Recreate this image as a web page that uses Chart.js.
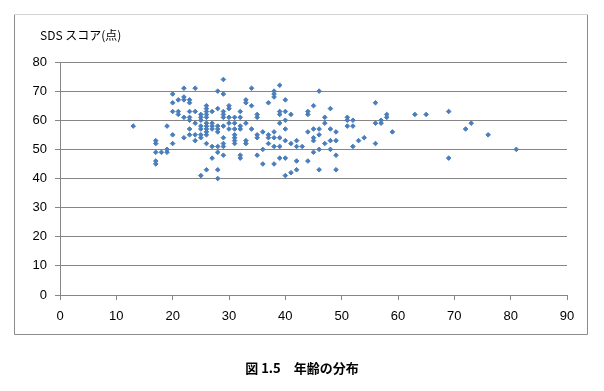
<!DOCTYPE html>
<html>
<head>
<meta charset="utf-8">
<script src="https://cdn.jsdelivr.net/npm/chart.js@4"></script>
<style>
  body { margin: 0; background: #fff; }
  #wrap { position: relative; width: 604px; height: 391px; }
</style>
</head>
<body>
<div id="wrap"><canvas id="ageChart" width="604" height="391"></canvas></div>
<script>
// 年齢とSDSスコア
const ages = [
  13, 17, 17, 17, 17, 17, 18, 19, 19, 19,
  20, 20, 20, 20, 20, 21, 21, 21, 22, 22, 22, 22, 22,
  23, 23, 23, 23, 23, 23, 23, 24, 24, 24, 24, 24,
  25, 25, 25, 25, 25, 25, 25, 25,
  26, 26, 26, 26, 26, 26, 26, 26, 26, 26, 26, 26,
  27, 27, 27, 27, 27, 27,
  28, 28, 28, 28, 28, 28, 28, 28, 28,
  29, 29, 29, 29, 29, 29, 29, 29, 29, 29,
  30, 30, 30, 30, 30,
  31, 31, 31, 31, 31, 31, 31,
  32, 32, 32, 32, 32, 32,
  33, 33, 33, 33, 33,
  34, 34, 34,
  35, 35, 35, 35, 35,
  36, 36, 36,
  37, 37, 37, 37,
  38, 38, 38, 38, 38, 38, 38,
  39, 39, 39, 39, 39, 39, 39,
  40, 40, 40, 40, 40, 40, 40,
  41, 41, 41,
  42, 42, 42, 42,
  43,
  44, 44, 44, 44,
  45, 45, 45, 45, 45,
  46, 46, 46, 46, 46,
  47, 47, 47,
  48, 48, 48, 48,
  49, 49, 49, 49,
  51, 51, 51, 52, 52, 52, 53, 54,
  56, 56, 56, 57, 57, 58, 58, 59,
  63, 65, 69, 69, 72, 73, 76, 81
];
const scores = [
  58, 53, 52, 49, 46, 45, 49, 50, 49, 58,
  55, 52, 69, 66, 63, 67, 63, 62, 54, 71, 68, 67, 61,
  55, 67, 66, 63, 61, 60, 57, 55, 53, 71, 63, 59,
  41, 62, 61, 60, 58, 57, 55, 54,
  65, 64, 63, 62, 61, 59, 58, 57, 56, 55, 52, 43,
  63, 59, 58, 57, 51, 47,
  70, 64, 58, 57, 56, 51, 49, 43, 40,
  74, 69, 63, 62, 61, 58, 54, 52, 51, 48,
  65, 64, 61, 59, 57,
  61, 59, 57, 55, 54, 53, 52,
  63, 61, 58, 57, 48, 47,
  67, 66, 59, 53, 52,
  71, 65, 57,
  62, 61, 55, 54, 48,
  56, 50, 45,
  66, 55, 54, 52,
  70, 69, 68, 56, 54, 51, 45,
  72, 63, 62, 59, 54, 51, 47,
  67, 63, 60, 57, 53, 47, 41,
  62, 52, 42,
  53, 51, 46, 43,
  51,
  63, 62, 56, 46,
  65, 57, 54, 53, 49,
  70, 57, 55, 50, 43,
  61, 59, 52,
  64, 57, 53, 50,
  56, 53, 48, 43,
  61, 60, 58, 60, 58, 51, 53, 54,
  66, 59, 52, 60, 59, 62, 61, 56,
  62, 62, 63, 47, 57, 59, 55, 50
];
const xTicks = [0, 10, 20, 30, 40, 50, 60, 70, 80, 90];
const yTicks = [0, 10, 20, 30, 40, 50, 60, 70, 80];

const points = ages.map(function(a, i) { return { x: a, y: scores[i] }; });

const gridColor = '#868686';

// 外枠・軸タイトル・図キャプション
const framePlugin = {
  id: 'frame',
  beforeDraw: function(chart) {
    const c = chart.ctx;
    c.save();
    c.fillStyle = '#fff';
    c.fillRect(0, 0, chart.width, chart.height);
    c.lineWidth = 1;
    c.strokeStyle = '#8c8c8c';
    c.beginPath();
    c.moveTo(14.5, 14.5);
    c.lineTo(14.5, 334.5);
    c.lineTo(587.5, 334.5);
    c.lineTo(587.5, 14.5);
    c.stroke();
    c.strokeStyle = '#d4d4d4';
    c.beginPath();
    c.moveTo(14.5, 14.5);
    c.lineTo(587.5, 14.5);
    c.stroke();
    c.restore();
  },
  afterDraw: function(chart) {
    const c = chart.ctx;
    c.save();
    c.fillStyle = '#000';
    c.textBaseline = 'middle';
    c.textAlign = 'left';
    c.font = '12px "Noto Sans CJK JP"';
    c.fillText('SDS スコア(点)', 40, 35);
    c.textAlign = 'center';
    c.font = 'bold 13px "Noto Sans CJK JP"';
    c.fillText('図 1.5　年齢の分布', 302, 368);
    c.restore();
  }
};

new Chart(document.getElementById('ageChart'), {
  type: 'scatter',
  data: {
    datasets: [{
      data: points,
      backgroundColor: '#4a7ebb',
      borderColor: '#4a7ebb',
      borderWidth: 1,
      pointStyle: 'rectRot',
      pointRadius: 2.3
    }]
  },
  options: {
    responsive: false,
    animation: false,
    layout: { padding: { top: 62, right: 37, left: 0, bottom: 0 } },
    plugins: {
      legend: { display: false },
      tooltip: { enabled: false }
    },
    scales: {
      x: {
        type: 'linear',
        min: 0,
        max: 90,
        afterFit: function(s) { s.height = 96; },
        afterBuildTicks: function(s) { s.ticks = xTicks.map(function(v) { return { value: v }; }); },
        grid: { drawOnChartArea: false, drawTicks: true, tickLength: 5, color: gridColor },
        border: { color: gridColor },
        ticks: { color: '#000', padding: 9, font: { family: 'Liberation Sans', size: 13 } }
      },
      y: {
        type: 'linear',
        min: 0,
        max: 80,
        afterFit: function(s) { s.width = 60; },
        afterBuildTicks: function(s) { s.ticks = yTicks.map(function(v) { return { value: v }; }); },
        grid: { drawOnChartArea: true, drawTicks: true, tickLength: 5, color: gridColor },
        border: { color: gridColor },
        ticks: { color: '#000', padding: 8, font: { family: 'Liberation Sans', size: 13 } }
      }
    }
  },
  plugins: [framePlugin]
});
</script>
</body>
</html>
